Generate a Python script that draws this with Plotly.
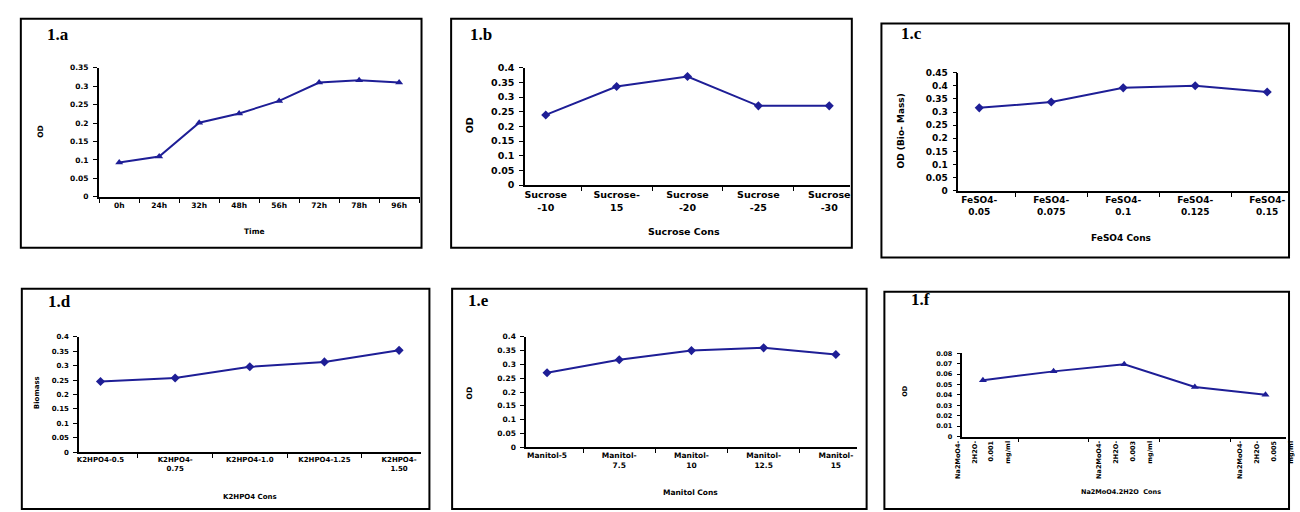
import plotly.graph_objects as go

W, H = 1300, 512

# ---------------- data ----------------
time_labels = ["0h", "24h", "32h", "48h", "56h", "72h", "78h", "96h"]
od_time = [0.093, 0.109, 0.201, 0.226, 0.260, 0.310, 0.316, 0.310]

sucrose_labels = ["Sucrose<br>-10", "Sucrose-<br>15", "Sucrose<br>-20", "Sucrose<br>-25", "Sucrose<br>-30"]
od_sucrose = [0.239, 0.336, 0.370, 0.270, 0.270]

feso4_labels = ["FeSO4-<br>0.05", "FeSO4-<br>0.075", "FeSO4-<br>0.1", "FeSO4-<br>0.125", "FeSO4-<br>0.15"]
od_feso4 = [0.316, 0.338, 0.392, 0.400, 0.376]

k2hpo4_labels = ["K2HPO4-0.5", "K2HPO4-<br>0.75", "K2HPO4-1.0", "K2HPO4-1.25", "K2HPO4-<br>1.50"]
biomass_k2hpo4 = [0.245, 0.257, 0.296, 0.313, 0.353]

manitol_labels = ["Manitol-5", "Manitol-<br>7.5", "Manitol-<br>10", "Manitol-<br>12.5", "Manitol-<br>15"]
od_manitol = [0.270, 0.317, 0.350, 0.360, 0.336]

na2moo4_categories = ["Na2MoO4-<br><br>2H2O-<br><br>0.001<br><br>mg/ml",
                      "Na2MoO4-<br><br>2H2O-<br><br>0.002<br><br>mg/ml",
                      "Na2MoO4-<br><br>2H2O-<br><br>0.003<br><br>mg/ml",
                      "Na2MoO4-<br><br>2H2O-<br><br>0.004<br><br>mg/ml",
                      "Na2MoO4-<br><br>2H2O-<br><br>0.005<br><br>mg/ml"]
na2moo4_ticktext = [na2moo4_categories[0], "", na2moo4_categories[2], "", na2moo4_categories[4]]
od_na2moo4 = [0.0542, 0.0627, 0.0696, 0.0476, 0.0401]

# ---------------- panels ----------------
panels = [
    dict(tag="1.a", x=time_labels, y=od_time, ticktext=None, yr=[0, 0.3502], dt=0.05,
         plot=(92, 417, 63, 195), box=(13, 419, 13, 247), lab=(51, 29),
         ytitle="OD", ytpos=(33, 128), xtitle="Time", xtpos=(250, 230),
         tf=7.5, xf=7.5, sym="triangle-up", tangle=0),
    dict(tag="1.b", x=sucrose_labels, y=od_sucrose, ticktext=None, yr=[0, 0.4002], dt=0.05,
         plot=(524, 853, 63, 183), box=(449, 855, 13, 247), lab=(479, 29),
         ytitle="OD", ytpos=(467, 122), xtitle="Sucrose Cons", xtpos=(685, 230),
         tf=9.5, xf=9.5, sym="diamond", tangle=0),
    dict(tag="1.c", x=feso4_labels, y=od_feso4, ticktext=None, yr=[0, 0.4502], dt=0.05,
         plot=(963, 1297, 68, 189), box=(885, 1298, 18, 257), lab=(915, 28),
         ytitle="OD (Bio- Mass)", ytpos=(905, 128), xtitle="FeSO4 Cons", xtpos=(1128, 237),
         tf=9, xf=9, sym="diamond", tangle=0),
    dict(tag="1.d", x=k2hpo4_labels, y=biomass_k2hpo4, ticktext=None, yr=[0, 0.4002], dt=0.05,
         plot=(72, 418, 338, 456), box=(14, 427, 289, 514), lab=(52, 302),
         ytitle="Biomass", ytpos=(29, 395), xtitle="K2HPO4 Cons", xtpos=(245, 502),
         tf=7, xf=7, sym="diamond", tangle=0),
    dict(tag="1.e", x=manitol_labels, y=od_manitol, ticktext=None, yr=[0, 0.4002], dt=0.05,
         plot=(525, 860, 338, 451), box=(450, 870, 289, 514), lab=(477, 301),
         ytitle="OD", ytpos=(468, 395), xtitle="Manitol Cons", xtpos=(692, 497),
         tf=7.5, xf=7.5, sym="diamond", tangle=0),
    dict(tag="1.f", x=na2moo4_categories, y=od_na2moo4, ticktext=na2moo4_ticktext, yr=[0, 0.08002], dt=0.01,
         plot=(967, 1295, 355, 440), box=(888, 1298, 292, 514), lab=(925, 300),
         ytitle="OD", ytpos=(908, 393), xtitle="Na2MoO4.2H2O  Cons", xtpos=(1128, 497),
         tf=6.5, xf=6.5, sym="triangle-up", tangle=-90),
]

FONT = "DejaVu Sans"
LINE = "#1e1e96"

fig = go.Figure()
shapes = []
annotations = []

for i, p in enumerate(panels):
    n = "" if i == 0 else str(i + 1)
    x0, x1, yt, yb = p["plot"]
    fig.add_trace(go.Scatter(
        x=p["x"], y=p["y"], mode="lines+markers",
        line=dict(color=LINE, width=2),
        marker=dict(symbol=p["sym"], size=7, color=LINE),
        xaxis="x" + n, yaxis="y" + n, showlegend=False,
    ))
    xa = dict(
        domain=[x0 / W, x1 / W], anchor="y" + n, type="category",
        tickson="boundaries", showline=True, linecolor="black", linewidth=1.5,
        ticks="outside", ticklen=4, tickcolor="black", tickwidth=1.2,
        showgrid=False, zeroline=False, tickangle=p["tangle"],
        tickfont=dict(family=FONT, size=p["xf"], color="black", weight="bold"),
        fixedrange=True,
    )
    if p["ticktext"] is not None:
        xa.update(tickmode="array", tickvals=p["x"], ticktext=p["ticktext"])
    ya = dict(
        domain=[1 - yb / H, 1 - yt / H], anchor="x" + n, range=p["yr"], dtick=p["dt"],
        tick0=0, showline=True, linecolor="black", linewidth=1.5,
        ticks="outside", ticklen=4, tickcolor="black", tickwidth=1.2,
        showgrid=False, zeroline=False, ticklabelstandoff=3,
        tickfont=dict(family=FONT, size=p["tf"], color="black", weight="bold"),
        fixedrange=True,
    )
    fig.update_layout(**{"xaxis" + n: xa, "yaxis" + n: ya})

    bx0, bx1, by0, by1 = p["box"]
    shapes.append(dict(type="rect", xref="paper", yref="paper",
                       x0=bx0 / W, x1=bx1 / W, y0=1 - by1 / H, y1=1 - by0 / H,
                       line=dict(color="black", width=2), fillcolor="rgba(0,0,0,0)"))
    annotations.append(dict(text=p["tag"], xref="paper", yref="paper",
                            x=p["lab"][0] / W, y=1 - p["lab"][1] / H,
                            showarrow=False, xanchor="center", yanchor="middle",
                            font=dict(family="Liberation Serif", size=17, color="black", weight="bold")))
    annotations.append(dict(text=p["ytitle"], xref="paper", yref="paper",
                            x=p["ytpos"][0] / W, y=1 - p["ytpos"][1] / H, textangle=-90,
                            showarrow=False, xanchor="center", yanchor="middle",
                            font=dict(family=FONT, size=p["tf"], color="black", weight="bold")))
    annotations.append(dict(text=p["xtitle"], xref="paper", yref="paper",
                            x=p["xtpos"][0] / W, y=1 - p["xtpos"][1] / H,
                            showarrow=False, xanchor="center", yanchor="middle",
                            font=dict(family=FONT, size=p["tf"], color="black", weight="bold")))

fig.update_layout(
    width=W, height=H, margin=dict(l=0, r=0, t=0, b=0),
    paper_bgcolor="white", plot_bgcolor="white",
    shapes=shapes, annotations=annotations, showlegend=False,
)

fig.write_html("out.html", config={"displayModeBar": False},
               post_script="document.body.style.margin='0';document.body.style.overflow='hidden';")
